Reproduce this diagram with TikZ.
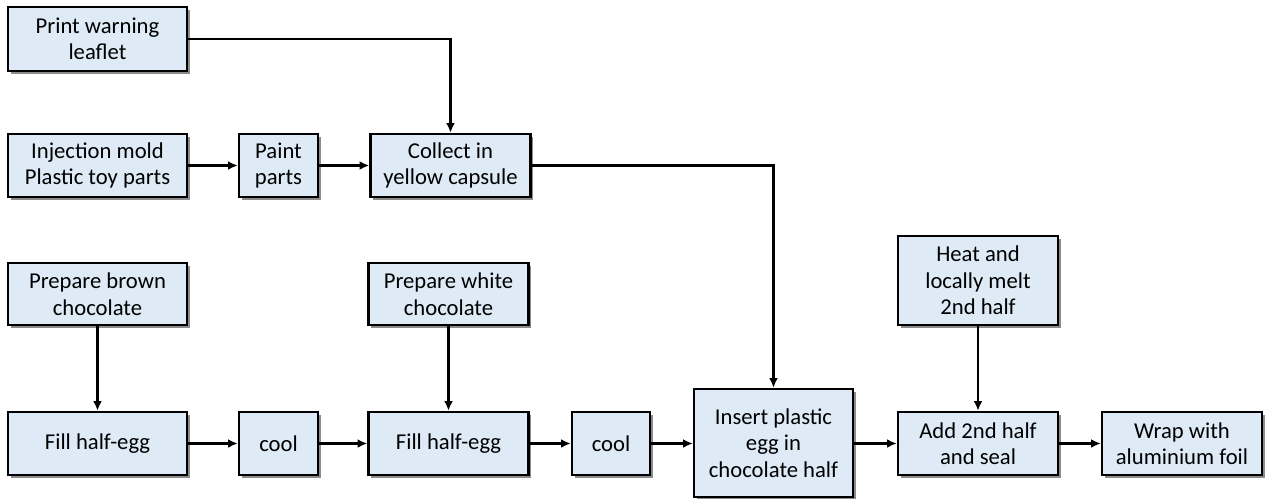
\documentclass[tikz,border=0pt]{standalone}
\usepackage{fontspec}
\setmainfont{Carlito}
\usepackage{xcolor}
\usetikzlibrary{positioning,arrows.meta,shadows}
\definecolor{stepBlue}{HTML}{DEEBF7}

\begin{document}
\begin{tikzpicture}[x=0.02cm, y=-0.02cm,
  stepbox/.style={draw, line width=1.4pt, fill=stepBlue, align=center, inner sep=1pt,
    minimum height=1.26cm, font=\fontsize{12.9}{15.1}\selectfont,
    drop shadow={shadow xshift=1.5pt, shadow yshift=-1.5pt, opacity=0.45, fill=black}},
  flow/.style={-{Latex[length=5.5pt,width=5pt]}, line width=1.3pt}]
  \useasboundingbox (0,0) rectangle (1266,498);

  % toy branch
  \node[stepbox, minimum width=3.58cm, minimum height=1.28cm] (warn) at (97.5,39) {Print warning\\leaflet};
  \node[stepbox, minimum width=3.58cm] (mold) at (97.5,165.5) {Injection mold\\Plastic toy parts};
  \node[stepbox, minimum width=1.58cm] (paint) at (278.5,165.5) {Paint\\parts};
  \node[stepbox, minimum width=3.2cm] (collect) at (450.5,165.5) {Collect in\\yellow capsule};

  % chocolate branch
  \node[stepbox, minimum width=3.58cm, minimum height=1.24cm] (brown) at (97.5,294) {Prepare brown\\chocolate};
  \node[stepbox, minimum width=3.58cm] (fill1) at (97.5,443.5) {Fill half-egg};
  \node[stepbox, minimum width=1.58cm] (cool1) at (278.5,443.5) {cool};
  \node[stepbox, minimum width=3.2cm, minimum height=1.24cm] (white) at (448.5,294) {Prepare white\\chocolate};
  \node[stepbox, minimum width=3.2cm] (fill2) at (448.5,443.5) {Fill half-egg};
  \node[stepbox, minimum width=1.56cm] (cool2) at (611,443.5) {cool};

  % assembly
  \node[stepbox, minimum width=3.18cm, minimum height=2.16cm] (insert) at (773.5,443) {Insert plastic\\egg in\\chocolate half};
  \node[stepbox, minimum width=3.2cm, minimum height=1.78cm] (heat) at (978,280.5) {Heat and\\locally melt\\2nd half};
  \node[stepbox, minimum width=3.2cm] (seal) at (978,443.5) {Add 2nd half\\and seal};
  \node[stepbox, minimum width=3.2cm] (wrap) at (1182,443.5) {Wrap with\\aluminium foil};

  \draw[flow] (warn) -| (collect);
  \draw[flow] (mold) -- (paint);
  \draw[flow] (paint) -- (collect);
  \draw[flow] (collect) -| (insert);

  \draw[flow] (brown) -- (fill1);
  \draw[flow] (white) -- (fill2);
  \draw[flow] (fill1) -- (cool1);
  \draw[flow] (cool1) -- (fill2);
  \draw[flow] (fill2) -- (cool2);
  \draw[flow] (cool2) -- (insert.west |- cool2);

  \draw[flow] (heat) -- (seal);
  \draw[flow] (insert.east |- seal) -- (seal);
  \draw[flow] (seal) -- (wrap);
\end{tikzpicture}
\end{document}
